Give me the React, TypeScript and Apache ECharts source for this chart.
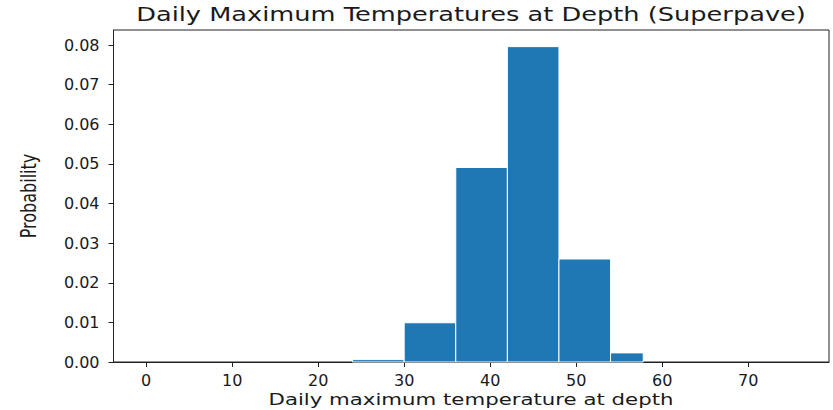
import React, { useEffect, useRef } from "react";
import * as echarts from "echarts";

const binStarts = [24, 30, 36, 42, 48, 54];
const binEnds = [30, 36, 42, 48, 54, 57.8];
const probabilities = [0.0006, 0.0099, 0.0491, 0.0796, 0.026, 0.0023];
const xTicks = [0, 10, 20, 30, 40, 50, 60, 70];
const yTicks = [0, 0.01, 0.02, 0.03, 0.04, 0.05, 0.06, 0.07, 0.08];

const titleText = "Daily Maximum Temperatures at Depth (Superpave)";
const xLabelText = "Daily maximum temperature at depth";
const yLabelText = "Probability";

export default function App() {
  const ref = useRef<HTMLDivElement>(null);
  useEffect(() => {
    document.body.style.margin = "0";
    if (!ref.current) return;
    const chart = echarts.init(ref.current, undefined, { renderer: "svg" });
    const data = binStarts.map((s, i) => [s, binEnds[i], probabilities[i]]);
    const font = "DejaVu Sans";
    const textColor = "#1a1a1a";
    chart.setOption({
      animation: false,
      backgroundColor: "#fff",
      grid: {
        left: 113.5,
        right: 4,
        top: 30,
        bottom: 48,
        show: true,
        borderColor: "#222",
        borderWidth: 1,
        containLabel: false,
      },
      xAxis: {
        type: "value",
        min: -3.8,
        max: 79.4,
        splitLine: { show: false },
        axisLine: { show: true, onZero: false, lineStyle: { color: "#222", width: 1 } },
        axisTick: {
          show: true,
          length: 5,
          customValues: xTicks,
          lineStyle: { color: "#222" },
        },
        axisLabel: {
          customValues: xTicks,
          fontFamily: font,
          fontSize: 16,
          color: textColor,
          margin: 10,
        },
      },
      yAxis: {
        type: "value",
        min: 0,
        max: 0.0838,
        splitLine: { show: false },
        axisLine: { show: true, onZero: false, lineStyle: { color: "#222", width: 1 } },
        axisTick: {
          show: true,
          length: 5,
          customValues: yTicks,
          lineStyle: { color: "#222" },
        },
        axisLabel: {
          customValues: yTicks,
          formatter: (v: number) => v.toFixed(2),
          fontFamily: font,
          fontSize: 16,
          color: textColor,
          margin: 14,
        },
      },
      graphic: [
        {
          type: "text",
          x: 471,
          y: 14,
          scaleX: 1.35,
          style: {
            text: titleText,
            font: `19px "${font}"`,
            fill: textColor,
            align: "center",
            verticalAlign: "middle",
          },
        },
        {
          type: "text",
          x: 471,
          y: 399,
          scaleX: 1.33,
          style: {
            text: xLabelText,
            font: `16px "${font}"`,
            fill: textColor,
            align: "center",
            verticalAlign: "middle",
          },
        },
        {
          type: "text",
          x: 29,
          y: 196,
          rotation: Math.PI / 2,
          scaleY: 1.3,
          style: {
            text: yLabelText,
            font: `16px "${font}"`,
            fill: textColor,
            align: "center",
            verticalAlign: "middle",
          },
        },
      ],
      series: [
        {
          type: "custom",
          data,
          encode: { x: [0, 1], y: 2 },
          renderItem: (params: any, api: any) => {
            const start = api.coord([api.value(0), 0]);
            const end = api.coord([api.value(1), api.value(2)]);
            return {
              type: "rect",
              shape: {
                x: start[0],
                y: end[1],
                width: end[0] - start[0],
                height: start[1] - end[1],
              },
              style: { fill: "#1f77b4", stroke: "#ffffff", lineWidth: 1 },
            };
          },
        },
      ],
    });
    return () => chart.dispose();
  }, []);
  return <div ref={ref} style={{ width: 833, height: 410 }} />;
}
